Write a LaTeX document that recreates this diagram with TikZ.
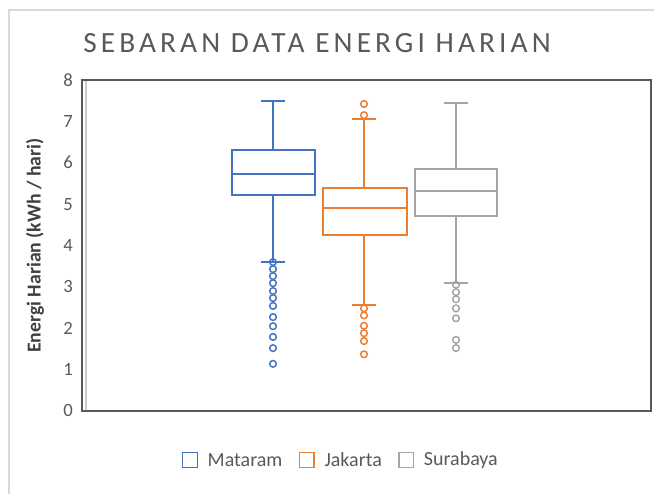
\documentclass[tikz,border=0pt]{standalone}
\usepackage{fontspec}
\setmainfont{Carlito}
\newfontfamily\titlefont[LetterSpace=14]{Carlito}
\usetikzlibrary{positioning}
\definecolor{mataram}{HTML}{4472C4}
\definecolor{jakarta}{HTML}{ED7D31}
\definecolor{surabaya}{HTML}{A5A5A5}
\definecolor{txtgray}{HTML}{595959}
\tikzset{
  boxline/.style={line width=1.5pt},
  whisk/.style={line width=1.2pt},
  outlier/.style={line width=1.1pt},
  ticklabel/.style={txtgray, anchor=east, inner sep=0pt, font=\fontsize{14}{16}\selectfont},
  legbox/.style={draw, line width=1.2pt, minimum size=11pt, inner sep=0pt},
  legtext/.style={txtgray, inner sep=0pt, font=\fontsize{15}{18}\selectfont}
}
\begin{document}
\begin{tikzpicture}[x=0.75pt,y=0.75pt]
\useasboundingbox (0,0) rectangle (654,494);
\draw[black!15, line width=0.8pt] (9,0)--(9,484)--(654,484);
\node[txtgray, font=\titlefont\fontsize{22}{26}\selectfont] (title) at (317,451) {SEBARAN DATA ENERGI HARIAN};
\begin{scope}[shift={(0,83)}, y=31.03pt]
% frame and axis
\draw[black!20, line width=2pt] (86,0)--(86,8);
\draw[black!65, line width=1.2pt] (82,0) rectangle (651,8);
\foreach \v in {0,...,8}
  \node[ticklabel] (t\v) at (73,\v) {\v};
\node[black!75, rotate=90, font=\bfseries\fontsize{14.8}{17}\selectfont] (ylab) at (35,4) {Energi Harian (kWh / hari)};
% Mataram
\draw[mataram, boxline] (232,5.22) rectangle (315,6.31);
\draw[mataram, boxline] (232,5.73)--(315,5.73);
\draw[mataram, whisk] (273,6.31)--(273,7.5) (261,7.5)--(285,7.5);
\draw[mataram, whisk] (273,5.22)--(273,3.6) (261,3.6)--(285,3.6);
\foreach \v in {3.6,3.43,3.26,3.09,2.9,2.73,2.54,2.27,2.05,1.79,1.52,1.14}
  \draw[mataram, outlier] (273,\v) circle (2.5pt);
% Jakarta
\draw[jakarta, boxline] (323,4.25) rectangle (407,5.39);
\draw[jakarta, boxline] (323,4.91)--(407,4.91);
\draw[jakarta, whisk] (364,5.39)--(364,7.06) (352,7.06)--(376,7.06);
\draw[jakarta, whisk] (364,4.25)--(364,2.56) (352,2.56)--(376,2.56);
\foreach \v in {7.42,7.15,2.48,2.31,2.06,1.88,1.69,1.37}
  \draw[jakarta, outlier] (364,\v) circle (2.5pt);
% Surabaya
\draw[surabaya, boxline] (415,4.71) rectangle (497,5.85);
\draw[surabaya, boxline] (415,5.32)--(497,5.32);
\draw[surabaya, whisk] (456,5.85)--(456,7.44) (444,7.44)--(468,7.44);
\draw[surabaya, whisk] (456,4.71)--(456,3.09) (444,3.09)--(468,3.09);
\foreach \v in {3.05,2.87,2.7,2.48,2.24,1.72,1.52}
  \draw[surabaya, outlier] (456,\v) circle (2.5pt);
\end{scope}
% legend
\node[legbox, draw=mataram] (lm) at (190,34) {};
\node[legtext, right=7pt of lm] (lmt) {Mataram};
\node[legbox, draw=jakarta, right=12pt of lmt] (lj) {};
\node[legtext, right=7pt of lj] (ljt) {Jakarta};
\node[legbox, draw=surabaya, right=12pt of ljt] (ls) {};
\node[legtext, right=7pt of ls] (lst) {Surabaya};
\end{tikzpicture}
\end{document}
